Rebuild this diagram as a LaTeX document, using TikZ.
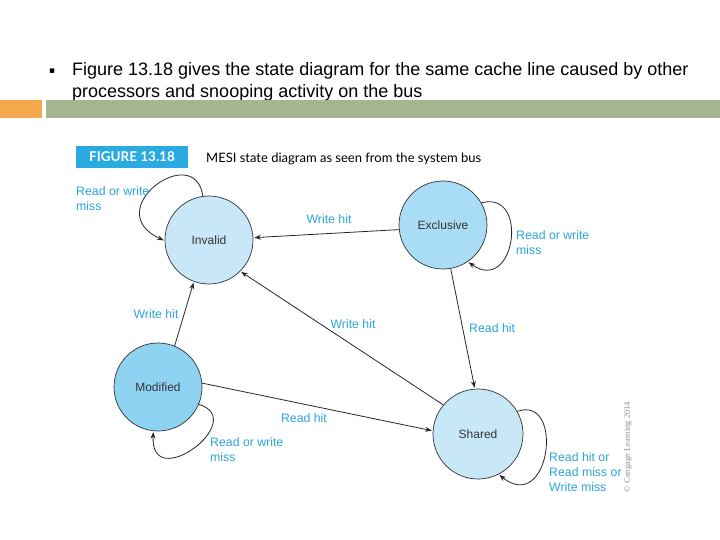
\documentclass[tikz,border=0pt]{standalone}
\usepackage{fontspec}
\setmainfont{Liberation Sans}
\newfontfamily\capfont{Lato}
\newfontfamily\symfont{DejaVu Sans}
\newfontfamily\notefont{Liberation Serif}
\usetikzlibrary{positioning, arrows.meta}

\definecolor{lblblue}{HTML}{2AA6D8}
\definecolor{figblue}{HTML}{29AAE1}
\definecolor{invfill}{HTML}{C8E7F8}
\definecolor{excfill}{HTML}{A9DCF5}
\definecolor{modfill}{HTML}{8FD3F2}
\definecolor{shafill}{HTML}{C8E8F8}
\definecolor{barorange}{HTML}{F5A94E}
\definecolor{bargreen}{HTML}{A5B592}

\begin{document}
\begin{tikzpicture}[
    x=1pt, y=1pt,
    >=Stealth,
    state/.style={draw=black!80, line width=0.7pt, circle, inner sep=0pt, minimum size=88pt,
                  font=\fontsize{12}{14}\selectfont, text=black!80},
    lbl/.style={text=lblblue, inner sep=0pt, font=\fontsize{12.3}{15}\selectfont},
    lbll/.style={lbl, anchor=west, align=left},
    arr/.style={->, line width=0.8pt, black!85, shorten >=1pt},
]
\useasboundingbox (0,0) rectangle (720,-540);

% slide header
\node[anchor=base west, inner sep=0pt, font=\fontsize{9}{9}\symfont] (bul) at (49,-74) {▪};
\node[anchor=base west, inner sep=0pt, font=\fontsize{18}{22}\selectfont] (line1) at (72,-75.5)
    {Figure 13.18 gives the state diagram for the same cache line caused by other};
\node[anchor=base west, inner sep=0pt, font=\fontsize{18}{22}\selectfont] (line2) at (72,-97.5)
    {processors and snooping activity on the bus};
\fill[barorange] (0,-100) rectangle (42,-118);
\fill[bargreen] (46,-100) rectangle (720,-118);

% figure caption
\node[fill=figblue, text=white, minimum width=112pt, minimum height=22pt, inner sep=0pt,
      font=\fontsize{13.5}{14}\capfont\bfseries] (fig) at (132,-157) {FIGURE 13.18};
\node[anchor=west, inner sep=0pt, font=\fontsize{13}{14}\capfont] (cap) at (206,-159)
    {MESI state diagram as seen from the system bus};

% states
\node[state, fill=invfill] (inv) at (209,-240) {Invalid};
\node[state, fill=excfill] (exc) at (443,-225) {Exclusive};
\node[state, fill=modfill] (mod) at (158,-387) {Modified};
\node[state, fill=shafill, minimum size=90pt] (sha) at (478,-434) {Shared};

% transitions
\draw[arr] (exc.186) -- (inv.3);
\draw[arr] (sha.140) -- (inv.-45);
\draw[arr] (exc.-80) -- (sha.94);
\draw[arr] (mod.68) -- (inv.250);
\draw[arr] (mod.5) -- (sha.176);

% self loops
\draw[arr] (inv.98) .. controls (195,-140) and (98,-210) .. (inv.181);
\draw[arr] (exc.30) .. controls (530,-190) and (515,-295) .. (exc.-56);
\draw[arr] (mod.-23) .. controls (250,-420) and (150,-495) .. (mod.-96);
\draw[arr] (sha.30) .. controls (565,-395) and (550,-515) .. (sha.-63);

% labels
\node[lbll] (l1) at (76,-199) {Read or write\\miss};
\node[lbl] (l2) at (329,-219) {Write hit};
\node[lbll] (l3) at (516,-243) {Read or write\\miss};
\node[lbl] (l4) at (156,-314) {Write hit};
\node[lbl] (l5) at (353,-324) {Write hit};
\node[lbll] (l6) at (469,-328) {Read hit};
\node[lbl] (l7) at (304,-418) {Read hit};
\node[lbll] (l8) at (210,-450) {Read or write\\miss};
\node[lbll] (l9) at (549,-472) {Read hit or\\Read miss or\\Write miss};

% credit
\node[rotate=90, text=black!45, inner sep=0pt, font=\fontsize{8.5}{9}\notefont] (cred) at (628,-447)
    {© Cengage Learning 2014};
\end{tikzpicture}
\end{document}
